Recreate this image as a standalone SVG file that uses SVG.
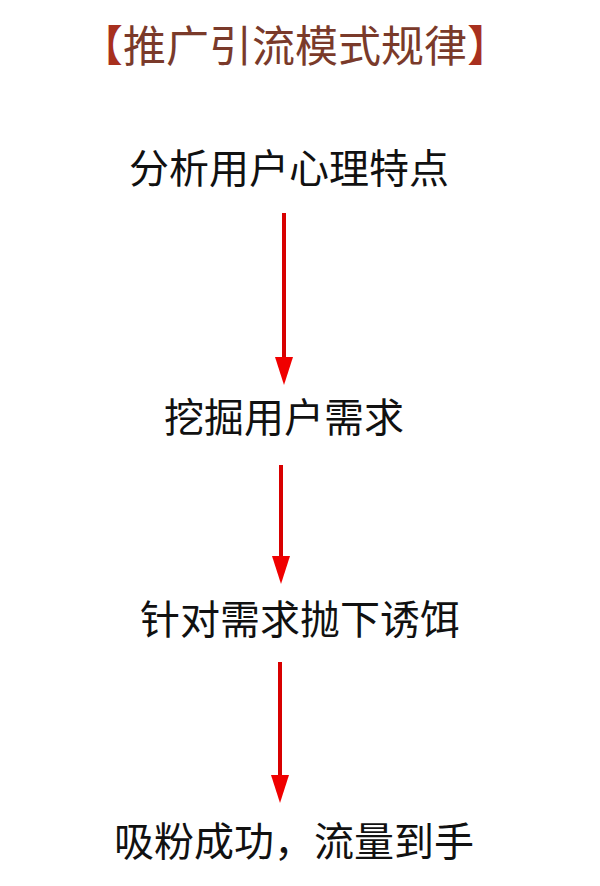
<svg xmlns="http://www.w3.org/2000/svg" width="600" height="886" viewBox="0 0 600 886">
<defs>
<style>
.t{font-family:"Noto Sans CJK SC","Noto Sans CJK JP",sans-serif;font-size:40px;fill:#111;text-anchor:middle}
.title{font-family:"Noto Sans CJK SC","Noto Sans CJK JP",sans-serif;font-size:43px;fill:#7a3a2a;text-anchor:middle}
.br{fill:#a8301e}
.c{stroke:#d80000;stroke-width:4;fill:none}
</style>
<marker id="ah" markerUnits="userSpaceOnUse" viewBox="0 0 28 18" refX="18" refY="9" markerWidth="28" markerHeight="18" orient="auto">
<path d="M0,0 L28,9 L0,18 z" fill="#f00000"/>
</marker>
</defs>
<rect width="600" height="886" fill="#fff"/>
<g id="title">
<text class="title" x="295" y="62"><tspan class="br">【</tspan>推广引流模式规律<tspan class="br">】</tspan></text>
</g>
<g id="n1"><text class="t" x="289" y="183">分析用户心理特点</text></g>
<g id="n2"><text class="t" x="284" y="432">挖掘用户需求</text></g>
<g id="n3"><text class="t" x="300" y="634">针对需求抛下诱饵</text></g>
<g id="n4"><text class="t" x="294" y="856">吸粉成功，流量到手</text></g>
<g id="connectors">
<line class="c" x1="284" y1="213" x2="284" y2="375" marker-end="url(#ah)"/>
<line class="c" x1="281" y1="465" x2="281" y2="574" marker-end="url(#ah)"/>
<line class="c" x1="280" y1="662" x2="280" y2="793" marker-end="url(#ah)"/>
</g>
</svg>
